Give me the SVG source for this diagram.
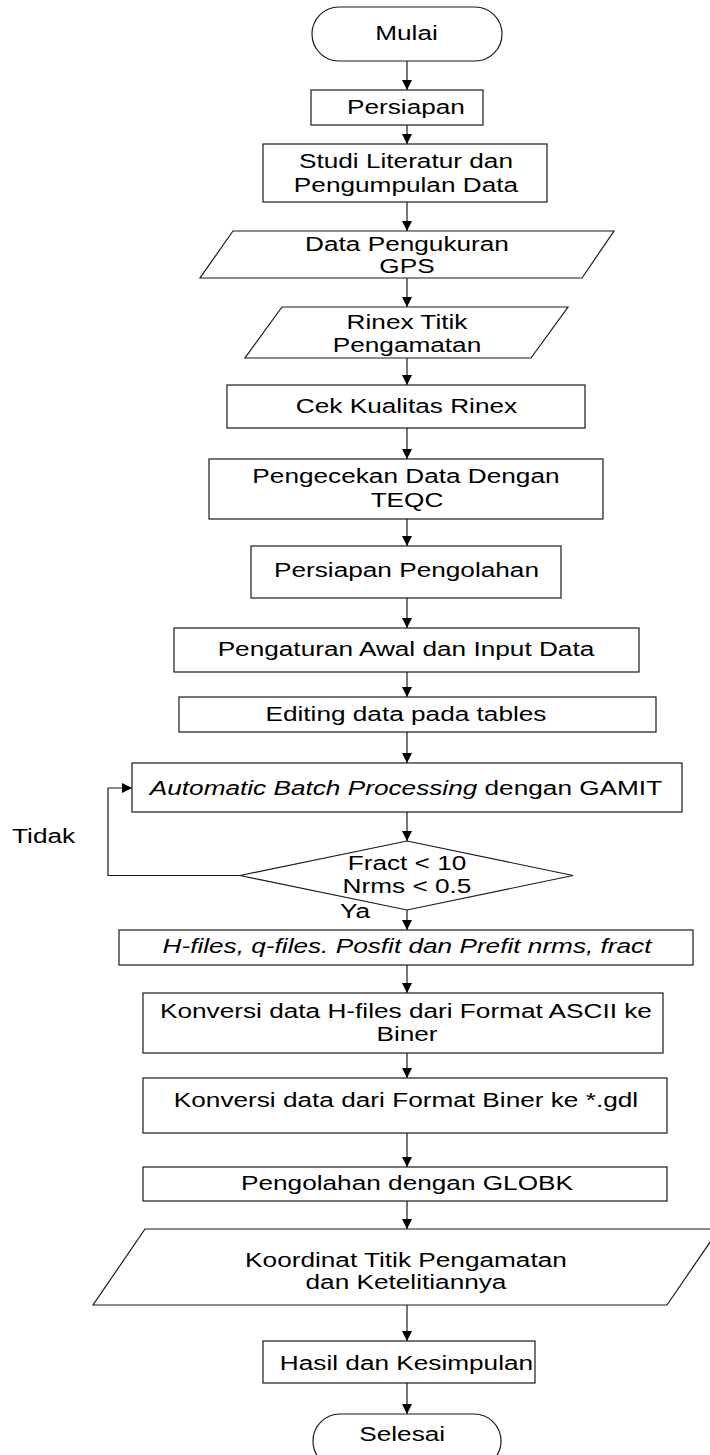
<svg xmlns="http://www.w3.org/2000/svg" width="710" height="1455" viewBox="0 0 710 1455">
<style>
.s{fill:#fff;stroke:#1a1a1a;stroke-width:1.2}
.c{fill:none;stroke:#1a1a1a;stroke-width:1.2}
.t{font-family:"Liberation Sans",Arial,sans-serif;font-size:20px;fill:#000;text-anchor:middle;transform:scaleX(1.31)}
.l{text-anchor:start}
.i{font-style:italic}
</style>
<defs>
<marker id="ah" viewBox="0 0 10 10" refX="10" refY="5" markerWidth="10" markerHeight="11" markerUnits="userSpaceOnUse" orient="auto">
<path d="M0,0 L10,5 L0,10 z" fill="#000"/>
</marker>
</defs>
<g id="connectors" class="c" marker-end="url(#ah)">
<line x1="407" y1="61" x2="407" y2="90"/>
<line x1="407" y1="125" x2="407" y2="144"/>
<line x1="407" y1="202" x2="407" y2="231"/>
<line x1="407" y1="278" x2="407" y2="307"/>
<line x1="407" y1="358" x2="407" y2="385"/>
<line x1="407" y1="428" x2="407" y2="459"/>
<line x1="407" y1="519" x2="407" y2="546"/>
<line x1="407" y1="598" x2="407" y2="628"/>
<line x1="407" y1="672" x2="407" y2="697"/>
<line x1="407" y1="732" x2="407" y2="763"/>
<line x1="407" y1="812" x2="407" y2="841"/>
<line x1="407" y1="910" x2="407" y2="930"/>
<line x1="407" y1="965" x2="407" y2="993"/>
<line x1="407" y1="1053" x2="407" y2="1078"/>
<line x1="407" y1="1133" x2="407" y2="1167"/>
<line x1="407" y1="1201" x2="407" y2="1229"/>
<line x1="407" y1="1305" x2="407" y2="1341"/>
<line x1="407" y1="1383" x2="407" y2="1414"/>
<polyline points="240,875.5 108,875.5 108,788 132,788"/>
</g>
<g id="mulai"><rect class="s" x="312" y="7" width="190" height="54" rx="27" ry="27"/><text class="t" x="310.3" y="40">Mulai</text></g>
<g id="persiapan"><rect class="s" x="311" y="90" width="172" height="35"/><text class="t" x="309.9" y="114">Persiapan</text></g>
<g id="studi"><rect class="s" x="263" y="144" width="284" height="58"/><text class="t" x="309.9" y="168">Studi Literatur dan</text><text class="t" x="309.9" y="192">Pengumpulan Data</text></g>
<g id="data-gps"><polygon class="s" points="233,231 614,231 582,278 200,278"/><text class="t" x="310.7" y="251">Data Pengukuran</text><text class="t" x="310.7" y="273">GPS</text></g>
<g id="rinex"><polygon class="s" points="282,307 568,307 531,358 245,358"/><text class="t" x="310.7" y="329">Rinex Titik</text><text class="t" x="310.7" y="352">Pengamatan</text></g>
<g id="cek"><rect class="s" x="227" y="385" width="358" height="43"/><text class="t" x="310.3" y="413">Cek Kualitas Rinex</text></g>
<g id="teqc"><rect class="s" x="209" y="459" width="394" height="60"/><text class="t" x="309.9" y="483">Pengecekan Data Dengan</text><text class="t" x="310.7" y="507">TEQC</text></g>
<g id="persiapan-pengolahan"><rect class="s" x="251" y="546" width="310" height="52"/><text class="t" x="310.3" y="577">Persiapan Pengolahan</text></g>
<g id="pengaturan"><rect class="s" x="174" y="628" width="465" height="44"/><text class="t" x="309.9" y="656">Pengaturan Awal dan Input Data</text></g>
<g id="editing"><rect class="s" x="179" y="697" width="477" height="35"/><text class="t" x="309.9" y="721">Editing data pada tables</text></g>
<g id="gamit"><rect class="s" x="132" y="763" width="550" height="49"/><text class="t" x="309.9" y="795"><tspan class="i">Automatic Batch Processing</tspan> dengan GAMIT</text></g>
<g id="cek-nrms"><polygon class="s" points="407,841 573,875.5 407,910 240,875.5"/><text class="t" x="310.7" y="870">Fract &lt; 10</text><text class="t" x="310.7" y="893">Nrms &lt; 0.5</text></g>
<g id="label-tidak"><text class="t l" x="9.2" y="843">Tidak</text></g>
<g id="label-ya"><text class="t l" x="259.5" y="918">Ya</text></g>
<g id="hfiles"><rect class="s" x="119" y="930" width="574" height="35"/><text class="t i" x="310.7" y="953">H-files, q-files. Posfit dan Prefit nrms, fract</text></g>
<g id="konversi1"><rect class="s" x="143" y="993" width="520" height="60"/><text class="t" x="309.9" y="1018">Konversi data H-files dari Format ASCII ke</text><text class="t" x="310.7" y="1041">Biner</text></g>
<g id="konversi2"><rect class="s" x="143" y="1078" width="524" height="55"/><text class="t" x="309.9" y="1107">Konversi data dari Format Biner ke *.gdl</text></g>
<g id="globk"><rect class="s" x="143" y="1167" width="524" height="34"/><text class="t" x="310.7" y="1190">Pengolahan dengan GLOBK</text></g>
<g id="koordinat"><polygon class="s" points="145,1229 719,1229 667,1305 93,1305"/><text class="t" x="309.9" y="1267">Koordinat Titik Pengamatan</text><text class="t" x="309.9" y="1289">dan Ketelitiannya</text></g>
<g id="hasil"><rect class="s" x="263" y="1341" width="272" height="42"/><text class="t" x="310.3" y="1370">Hasil dan Kesimpulan</text></g>
<g id="selesai"><rect class="s" x="313" y="1414" width="188" height="54" rx="27" ry="27"/><text class="t" x="307" y="1441">Selesai</text></g>
</svg>
